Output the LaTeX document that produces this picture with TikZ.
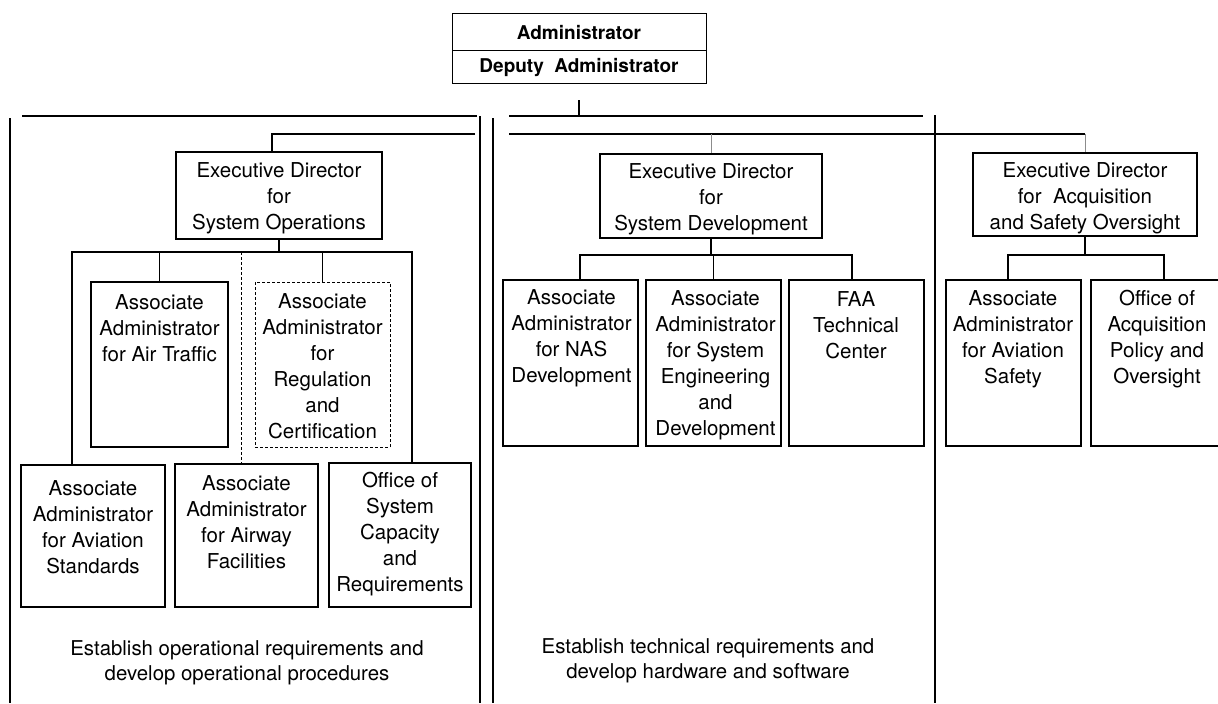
\documentclass[tikz,border=0pt]{standalone}
\usepackage{fontspec}
\setmainfont{TeX Gyre Heros}
\usetikzlibrary{fit}
\begin{document}
\begin{tikzpicture}[x=0.5pt,y=-0.5pt,
  ln/.style={line width=0.6pt},
  faint/.style={line width=0.4pt, black!45},
  dotline/.style={line width=0.5pt, dash pattern=on 1.5pt off 1pt},
  box/.style={draw, line width=0.6pt, inner sep=0pt},
  dotbox/.style={draw, line width=0.5pt, dash pattern=on 1.5pt off 1pt, inner sep=0pt},
  topbox/.style={draw, line width=0.45pt, inner sep=0pt},
  boldtxt/.style={inner sep=0pt, font=\bfseries\fontsize{9.5}{11}\selectfont},
  txt/.style={align=center, inner sep=0pt, font=\fontsize{10.25}{13}\selectfont},
  captext/.style={align=center, inner sep=0pt, font=\fontsize{10.2}{12.5}\selectfont}]
\useasboundingbox (0,0) rectangle (1218,703);

% top boxes
\node[topbox, fit={(452,13)(706,50)}] (adm) {};
\node[topbox, fit={(452,50)(706,83)}] (dep) {};
\node[boldtxt] at ([yshift=-0.5pt]adm.center) {Administrator};
\node[boldtxt] at ([yshift=-0.5pt]dep.center) {Deputy\hspace{0.55em}Administrator};

% panel lines
\coordinate (topbar) at (578,116);
\draw[ln, shorten <=8.5pt] (dep.south) -- (dep.south |- topbar);
\draw[ln] (22,116) -- (477,116);
\draw[ln] (509,116) -- (923,116);
\draw[ln] (10,118) -- (10,703);
\draw[ln] (480,116) -- (480,703);
\draw[ln] (493,118) -- (493,703);
\draw[ln] (935,115) -- (935,703);

% ---- left panel ----
\node[box, fit={(176,152)(382,239)}] (ops) {};
\node[txt] at ([yshift=-1.5pt]ops.center) {Executive Director\\for\\System Operations};
\coordinate (lj) at (272,134);
\draw[ln] (475,134) -- (lj) -- (lj |- ops.north);

\node[box, fit={(91,282)(228,447)}] (at) {};
\node[dotbox, fit={(255,282)(390,447)}] (reg) {};
\node[box, fit={(21,465)(165,607)}] (std) {};
\node[box, fit={(175,464)(318,607)}] (air) {};
\node[box, fit={(329,463)(471,607)}] (capa) {};

\coordinate (b1) at (72,252);
\coordinate (b2) at (412,252);
\coordinate (b3) at (241,252);
\draw[ln] (ops.south) -- (ops.south |- b1);
\draw[ln] (b1 |- std.north) -- (b1) -- (b3);
\draw[ln] (b3) -- (b2) -- (b2 |- capa.north);
\draw[ln] (at.north) -- (at.north |- b1);
\draw[ln] (reg.north) -- (reg.north |- b1);
\draw[dotline] (b3) -- (b3 |- air.north);

\node[txt] at (159.5,328) {Associate\\Administrator\\for Air Traffic};
\node[txt] at (322.5,366.5) {Associate\\Administrator\\for\\Regulation\\and\\Certification};
\node[txt] at (93,527) {Associate\\Administrator\\for Aviation\\Standards};
\node[txt] at (246.5,522) {Associate\\Administrator\\for Airway\\Facilities};
\node[txt] at (400,534.5) {Office of\\System\\Capacity\\and\\Requirements};

\node[captext] at (247,662.5) {Establish operational requirements and\\develop operational procedures};

% ---- middle panel ----
\node[box, fit={(600,154)(822,238)}] (sd) {};
\node[txt] at ([yshift=-1.5pt]sd.center) {Executive Director\\for\\System Development};
\coordinate (jr) at (1085,134);
\draw[ln] (509,134) -- (jr);
\draw[faint] (sd.north |- jr) -- (sd.north);

\node[box, fit={(503,280)(638,446)}] (nas) {};
\node[box, fit={(646,280)(781,446)}] (eng) {};
\node[box, fit={(789,280)(924,446)}] (faa) {};

\coordinate (m1) at (580,255);
\coordinate (m2) at (852,255);
\draw[ln] (sd.south) -- (sd.south |- m1);
\draw[ln] (m1 |- nas.north) -- (m1) -- (m2) -- (m2 |- faa.north);
\draw[ln] (eng.north) -- (eng.north |- m1);

\node[txt] at (571.5,338.5) {Associate\\Administrator\\for NAS\\Development};
\node[txt] at (715.5,365.5) {Associate\\Administrator\\for System\\Engineering\\and\\Development};
\node[txt] at (856,325) {FAA\\Technical\\Center};

\node[captext] at (708,660.5) {Establish technical requirements and\\develop hardware and software};

% ---- right panel ----
\node[box, fit={(973,153)(1197,236)}] (acq) {};
\node[txt] at ([yshift=-2pt]acq.center) {Executive Director\\for\ \ Acquisition\hspace*{17pt}\\and Safety Oversight};
\draw[faint] (jr) -- (acq.north);

\node[box, fit={(946,280)(1081,446)}] (saf) {};
\node[box, fit={(1091,280)(1237,446)}] (ofc) {};

\coordinate (r1) at (1008,255);
\coordinate (r2) at (1164,255);
\draw[ln] (acq.south) -- (acq.south |- r1);
\draw[ln] (r1 |- saf.north) -- (r1) -- (r2) -- (r2 |- ofc.north);

\node[txt] at (1013,339) {Associate\\Administrator\\for Aviation\\Safety};
\node[txt] at (1157,339) {Office of\\Acquisition\\Policy and\\Oversight};
\end{tikzpicture}
\end{document}
